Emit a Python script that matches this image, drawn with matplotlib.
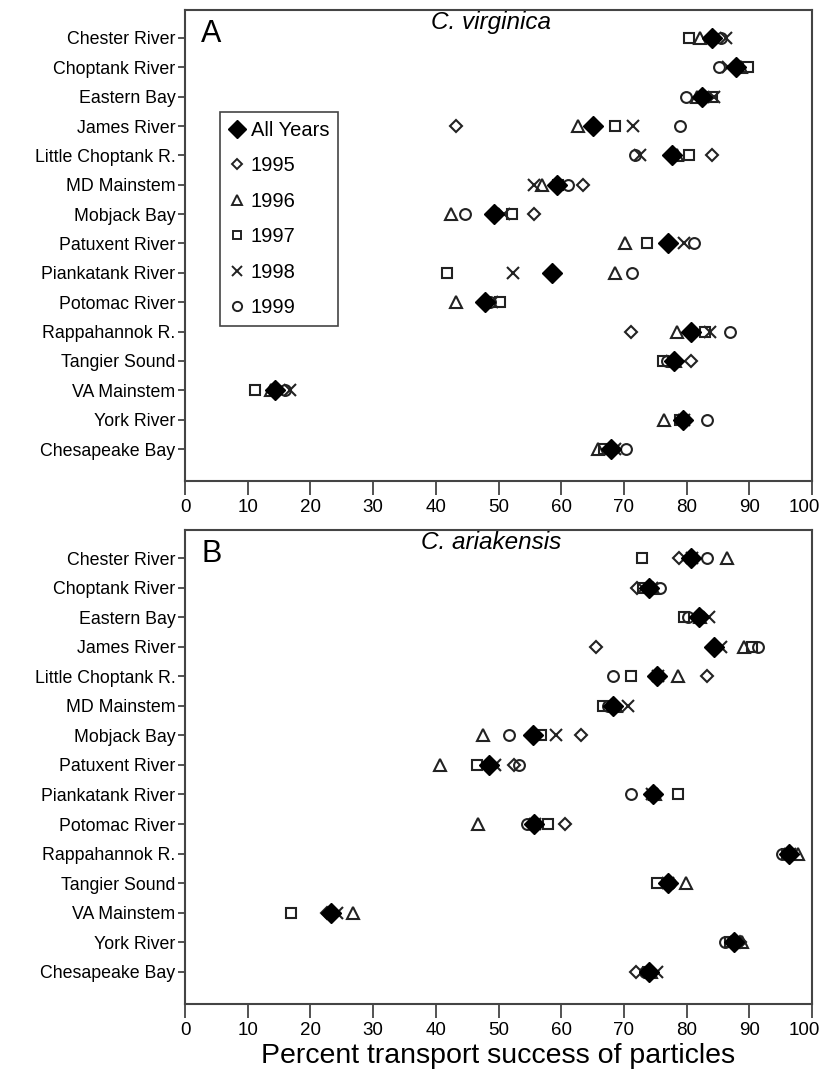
import numpy as np
import matplotlib
matplotlib.use("Agg")
import matplotlib.pyplot as plt
from matplotlib.lines import Line2D
from matplotlib.transforms import ScaledTranslation

plt.rcParams['font.family'] = ['Liberation Sans', 'DejaVu Sans']

# 站点名称
sites = ['Chester River', 'Choptank River', 'Eastern Bay', 'James River',
         'Little Choptank R.', 'MD Mainstem', 'Mobjack Bay', 'Patuxent River',
         'Piankatank River', 'Potomac River', 'Rappahannok R.', 'Tangier Sound',
         'VA Mainstem', 'York River', 'Chesapeake Bay']

years = ['1995', '1996', '1997', '1998', '1999']

# A: C. virginica
vir_all = [84.0, 87.8, 82.4, 65.0, 77.7, 59.3, 49.3, 77.1, 58.6, 47.8, 80.7, 78.0, 14.4, 79.4, 67.9]
vir_1995 = [84.5, 88.0, 83.0, 43.2, 84.0, 63.4, 55.6, 77.5, 58.8, 48.0, 71.1, 80.7, 14.8, 79.8, 68.2]
vir_1996 = [82.1, 88.6, 81.6, 62.7, 78.5, 57.0, 42.4, 70.2, 68.5, 43.2, 78.4, 78.2, 13.7, 76.4, 65.8]
vir_1997 = [80.4, 89.8, 84.0, 68.6, 80.3, 59.5, 52.1, 73.6, 41.7, 50.2, 82.9, 76.3, 11.2, 79.0, 66.8]
vir_1998 = [86.2, 86.6, 84.3, 71.4, 72.6, 55.6, 50.8, 79.5, 52.3, 49.0, 83.7, 77.6, 16.7, 79.6, 68.5]
vir_1999 = [85.5, 85.1, 79.9, 79.0, 71.8, 61.1, 44.7, 81.1, 71.3, 48.6, 86.9, 76.8, 15.9, 83.2, 70.4]

# B: C. ariakensis
ari_all = [80.7, 74.0, 81.9, 84.3, 75.2, 68.2, 55.5, 48.5, 74.7, 55.6, 96.4, 77.1, 23.3, 87.6, 74.0]
ari_1995 = [78.8, 72.1, 82.5, 65.5, 83.2, 68.0, 63.2, 52.4, 74.9, 60.6, 96.6, 77.3, 22.6, 88.5, 72.0]
ari_1996 = [86.4, 74.6, 82.2, 89.2, 78.6, 68.7, 47.6, 40.7, 75.0, 46.7, 97.8, 79.9, 26.8, 88.8, 74.3]
ari_1997 = [72.8, 73.0, 79.5, 90.4, 71.2, 66.6, 56.7, 46.5, 78.7, 57.9, 96.0, 75.3, 16.9, 86.9, 73.8]
ari_1998 = [80.9, 74.5, 83.6, 85.4, 75.4, 70.7, 59.1, 49.4, 74.5, 55.8, 96.5, 77.0, 24.2, 87.8, 75.3]
ari_1999 = [83.2, 75.8, 80.2, 91.3, 68.2, 67.5, 51.6, 53.2, 71.2, 54.5, 95.2, 77.4, 23.0, 86.1, 73.4]

# 每年的标记样式
year_markers = {'1995': ('D', 6.3), '1996': ('^', 8), '1997': ('s', 7.2),
                '1998': ('x', 8.5), '1999': ('o', 7.8)}

fig = plt.figure(figsize=(8.22, 10.69), dpi=100)
ax_a = fig.add_axes([0.2251, 0.5500, 0.7628, 0.4406])
ax_b = fig.add_axes([0.2251, 0.0608, 0.7628, 0.4434])

ypos = np.arange(len(sites))
edge = '#222222'


def draw_panel(ax, all_vals, year_vals, letter, title):
    for yr, vals in zip(years, year_vals):
        m, ms = year_markers[yr]
        ax.plot(vals, ypos, linestyle='none', marker=m, markersize=ms,
                markerfacecolor='none', markeredgecolor=edge,
                markeredgewidth=1.5, color=edge)
    ax.plot(all_vals, ypos, linestyle='none', marker='D', markersize=10,
            color='black')
    ax.set_xlim(0, 100)
    ax.set_ylim(len(sites) - 1 + 1.09, -0.95)
    ax.set_yticks(ypos)
    ax.set_yticklabels(sites, fontsize=12.8)
    ax.set_xticks(np.arange(0, 101, 10))
    ax.tick_params(axis='x', labelsize=13.5, length=10, width=1.3,
                   color='#444444', pad=3)
    ax.tick_params(axis='y', length=5, width=1.3, color='#444444', pad=2)
    # 最右边的“100”稍微左移，避免被裁掉
    last = ax.get_xticklabels()[-1]
    last.set_transform(last.get_transform() +
                       ScaledTranslation(-8 / 100, 0, fig.dpi_scale_trans))
    for s in ax.spines.values():
        s.set_linewidth(1.5)
        s.set_color('#444444')
    ax.text(0.026, 0.98, letter, transform=ax.transAxes, fontsize=22,
            va='top', ha='left')
    ax.text(0.488, 0.997, title, transform=ax.transAxes, fontsize=17.5,
            style='italic', va='top', ha='center')


draw_panel(ax_a, vir_all, [vir_1995, vir_1996, vir_1997, vir_1998, vir_1999],
           'A', 'C. virginica')
draw_panel(ax_b, ari_all, [ari_1995, ari_1996, ari_1997, ari_1998, ari_1999],
           'B', 'C. ariakensis')

ax_b.set_xlabel('Percent transport success of particles', fontsize=20.5, labelpad=3)

# 图例
handles = [Line2D([], [], linestyle='none', marker='D', markersize=9.5, color='black')]
labels = ['All Years']
for yr in years:
    m, ms = year_markers[yr]
    handles.append(Line2D([], [], linestyle='none', marker=m, markersize=ms * 0.85,
                          markerfacecolor='none', markeredgecolor=edge,
                          markeredgewidth=1.4))
    labels.append(yr)
leg = ax_a.legend(handles, labels, loc='upper left', bbox_to_anchor=(0.056, 0.783),
                  borderaxespad=0, fancybox=False, framealpha=1, fontsize=14.5,
                  handlelength=0.8, handletextpad=0.3, labelspacing=0.82,
                  borderpad=0.42)
leg.get_frame().set_edgecolor('#444444')
leg.get_frame().set_linewidth(1.2)

fig.savefig('out.png', dpi=100)
